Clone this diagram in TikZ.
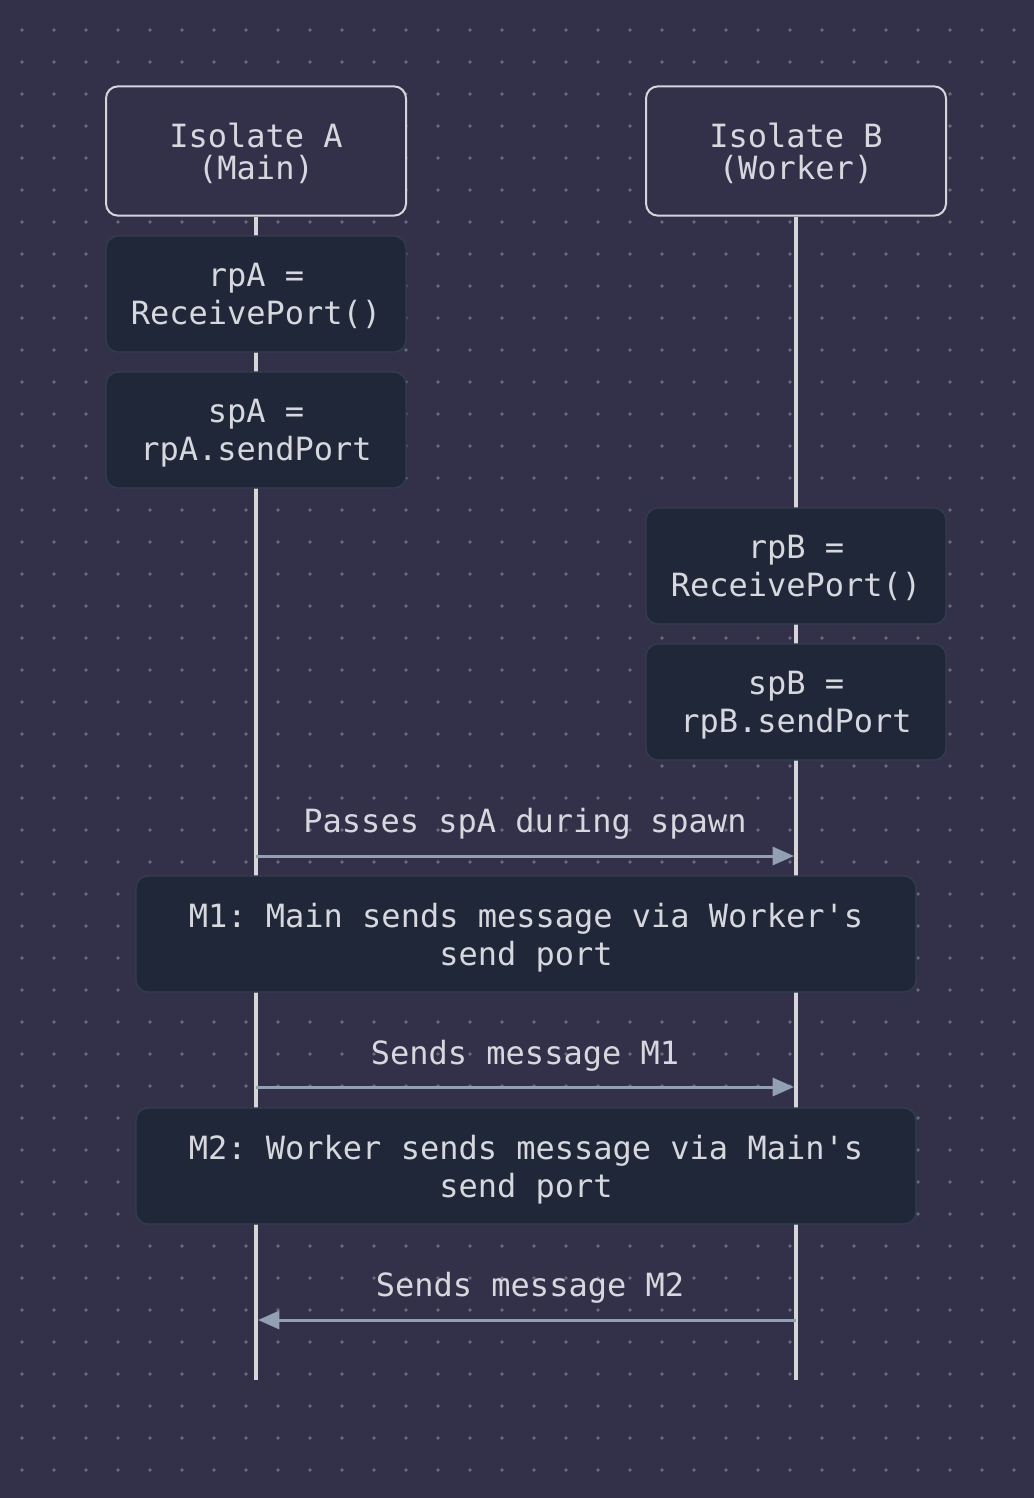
\documentclass[tikz,border=0pt]{standalone}
\usepackage{fontspec}
\setmonofont{DejaVu Sans Mono}
\usetikzlibrary{arrows.meta}

\definecolor{bgcol}{HTML}{33314A}
\definecolor{dotcol}{HTML}{6A6A7C}
\definecolor{notefill}{HTML}{1F2738}
\definecolor{notedraw}{HTML}{323D50}
\definecolor{linecol}{HTML}{D6D6D8}
\definecolor{msgcol}{HTML}{939FB2}
\definecolor{txtcol}{HTML}{D6D8DE}

\tikzset{
  actor/.style={draw=linecol, line width=1.5pt, fill=bgcol, rounded corners=9pt,
    minimum width=225pt, minimum height=97pt, inner sep=0pt, align=center,
    text depth=0pt, text=txtcol, font=\ttfamily\fontsize{24}{24}\selectfont},
  note/.style={draw=notedraw, line width=1pt, fill=notefill, rounded corners=9pt,
    minimum width=225pt, minimum height=87pt, inner sep=0pt, align=center,
    text depth=0pt, text=txtcol, font=\ttfamily\fontsize{24}{28.5}\selectfont},
  widenote/.style={note, minimum width=585pt},
  lifeline/.style={linecol, line width=3pt},
  msg/.style={msgcol, line width=2.25pt, shorten >=1.5pt, -{Triangle[length=16pt,width=13.5pt]}},
  msglabel/.style={inner sep=0pt, text depth=0pt, text=txtcol, font=\ttfamily\fontsize{24}{24}\selectfont}
}

\begin{document}
\begin{tikzpicture}[x=0.75pt, y=-0.75pt]
  % Hintergrund mit Punktraster
  \fill[bgcol] (0,0) rectangle (1034,1498);
  \useasboundingbox (0,0) rectangle (1034,1498);
  \foreach \i in {0,...,31}
    \foreach \j in {0,...,45}
      \fill[dotcol] (22+32*\i, 30+32*\j) circle (1.4pt);

  % Teilnehmer
  \node[actor] (isoA) at (256,151) {Isolate A\\(Main)};
  \node[actor] (isoB) at (796,151) {Isolate B\\(Worker)};

  % Lebenslinien
  \coordinate (endA) at (256,1380);
  \coordinate (endB) at (796,1380);
  \draw[lifeline] (isoA) -- (endA);
  \draw[lifeline] (isoB) -- (endB);

  % Ports anlegen
  \node[note] (rpA) at (256,294) {rpA =\\ReceivePort()};
  \node[note] (spA) at (256,430) {spA =\\rpA.sendPort};
  \node[note] (rpB) at (796,566) {rpB =\\ReceivePort()};
  \node[note] (spB) at (796,702) {spB =\\rpB.sendPort};

  % Nachrichten
  \coordinate (m1A) at (256,856);
  \coordinate (m1B) at (796,856);
  \node[msglabel] (lbl1) at (525,820) {Passes spA during spawn};
  \draw[msg] (m1A) -- (m1B);

  \node[widenote] (noteM1) at (526,934) {M1: Main sends message via Worker's\\send port};

  \coordinate (m2A) at (256,1087);
  \coordinate (m2B) at (796,1087);
  \node[msglabel] (lbl2) at (525,1052) {Sends message M1};
  \draw[msg] (m2A) -- (m2B);

  \node[widenote] (noteM2) at (526,1166) {M2: Worker sends message via Main's\\send port};

  \coordinate (m3A) at (256,1320);
  \coordinate (m3B) at (796,1320);
  \node[msglabel] (lbl3) at (530,1284) {Sends message M2};
  \draw[msg] (m3B) -- (m3A);
\end{tikzpicture}
\end{document}
